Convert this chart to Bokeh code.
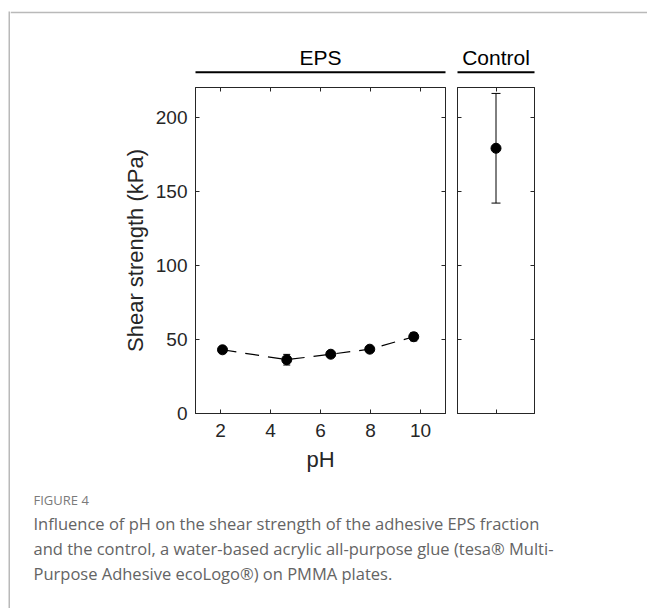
from bokeh.plotting import figure
from bokeh.models import (Range1d, LinearAxis, FixedTicker, Whisker, TeeHead,
                          Label, ColumnDataSource, Spacer)
from bokeh.layouts import row, column
from bokeh.embed import file_html
from bokeh.resources import INLINE

# ---------------- data ----------------
ph = [2.08, 4.65, 6.41, 7.97, 9.73]
shear_eps = [43.0, 36.3, 40.0, 43.4, 51.8]
shear_eps_err = [1.5, 3.6, 1.6, 1.5, 2.8]
control_x = [1]
control_shear = [179.0]
control_err = [37.0]
x_ticks = [2, 4, 6, 8, 10]
y_ticks = [0, 50, 100, 150, 200]
panel_titles = ["EPS", "Control"]
x_label = "pH"
y_label = "Shear strength (kPa)"
caption_head = "FIGURE 4"
caption_lines = [
    "Influence of pH on the shear strength of the adhesive EPS fraction",
    "and the control, a water-based acrylic all-purpose glue (tesa\u00ae Multi-",
    "Purpose Adhesive ecoLogo\u00ae) on PMMA plates.",
]

# ---------------- style / layout (page pixels) ----------------
FONT = "Liberation Sans"
CAP_FONT = "Open Sans"
AX = "#262626"
CARD = "#b9b9b9"
PAGE_W = 647
CARD_X, CARD_Y = 8, 11          # card border position
BAR = 2                          # card border thickness
HDR_BOTTOM = 86                  # header strip bottom
EPS_L, EPS_R = 195, 445          # EPS frame
CTRL_L, CTRL_R = 457, 534        # control frame
FRAME_T, FRAME_B = 87, 413
PANEL_B = 485                    # bottom of panel row
PAGE_H = 608
HDR_LINE_Y = 71.7
HDR_TEXT_Y = 56.6
CAP_HEAD_Y = 499
CAP_BODY_Y = 523
CAP_STEP = 25
INNER_X = CARD_X + BAR


def style_axis(ax, ticks, show_labels):
    ax.ticker = FixedTicker(ticks=ticks)
    ax.major_tick_in = 4
    ax.major_tick_out = 0
    ax.minor_tick_line_color = None
    ax.axis_line_color = AX
    ax.major_tick_line_color = AX
    if show_labels:
        ax.major_label_text_font = FONT
        ax.major_label_text_font_size = "19px"
        ax.major_label_text_color = AX
    else:
        ax.major_label_text_color = None
        ax.major_label_text_font_size = "0px"
        ax.major_label_standoff = 0


def panel_fig(x0, x1, fl, fr, xr):
    p = figure(width=x1 - x0, height=PANEL_B - HDR_BOTTOM, x_range=xr,
               y_range=Range1d(0, 220), output_backend="svg",
               toolbar_location=None, min_border_left=fl - x0,
               min_border_right=x1 - fr, min_border_top=FRAME_T - HDR_BOTTOM,
               min_border_bottom=PANEL_B - FRAME_B)
    p.xgrid.visible = False
    p.ygrid.visible = False
    p.outline_line_color = AX
    p.outline_line_width = 1
    p.background_fill_color = "white"
    p.border_fill_color = "white"
    return p


SPLIT = EPS_R + 6

# ---------------- EPS panel ----------------
eps = panel_fig(INNER_X, SPLIT, EPS_L, EPS_R, Range1d(1, 11))
style_axis(eps.xaxis[0], x_ticks, True)
style_axis(eps.yaxis[0], y_ticks, True)
eps.xaxis[0].major_label_standoff = 10
eps.yaxis[0].major_label_standoff = 8
eps.xaxis[0].axis_label = x_label
eps.yaxis[0].axis_label = y_label
for ax in (eps.xaxis[0], eps.yaxis[0]):
    ax.axis_label_text_font = FONT
    ax.axis_label_text_font_size = "22px"
    ax.axis_label_text_font_style = "normal"
    ax.axis_label_text_color = AX
eps.xaxis[0].axis_label_standoff = 7
eps.yaxis[0].axis_label_standoff = 5
r_ax = LinearAxis()
style_axis(r_ax, y_ticks, False)
eps.add_layout(r_ax, "right")
t_ax = LinearAxis()
style_axis(t_ax, x_ticks, False)
eps.add_layout(t_ax, "above")

src = ColumnDataSource(dict(
    x=ph, y=shear_eps,
    lo=[v - e for v, e in zip(shear_eps, shear_eps_err)],
    hi=[v + e for v, e in zip(shear_eps, shear_eps_err)]))
eps.line("x", "y", source=src, line_color="black", line_width=1.2,
         line_dash="14 9")
eps.add_layout(Whisker(source=src, base="x", lower="lo", upper="hi",
                       line_color="black", line_width=1,
                       upper_head=TeeHead(size=7, line_color="black"),
                       lower_head=TeeHead(size=7, line_color="black")))
eps.scatter("x", "y", source=src, size=10, color="black")

# ---------------- Control panel ----------------
ctrl = panel_fig(SPLIT, PAGE_W, CTRL_L, CTRL_R, Range1d(0, 2))
style_axis(ctrl.xaxis[0], control_x, False)
style_axis(ctrl.yaxis[0], y_ticks, False)
r2 = LinearAxis()
style_axis(r2, y_ticks, False)
ctrl.add_layout(r2, "right")
t2 = LinearAxis()
style_axis(t2, control_x, False)
ctrl.add_layout(t2, "above")

csrc = ColumnDataSource(dict(
    x=control_x, y=control_shear,
    lo=[v - e for v, e in zip(control_shear, control_err)],
    hi=[v + e for v, e in zip(control_shear, control_err)]))
ctrl.add_layout(Whisker(source=csrc, base="x", lower="lo", upper="hi",
                        line_color="black", line_width=1,
                        upper_head=TeeHead(size=9, line_color="black"),
                        lower_head=TeeHead(size=9, line_color="black")))
ctrl.scatter("x", "y", source=csrc, size=10, color="black")

# ---------------- header strip (card top border + panel headers) ----------------
hdr = figure(width=PAGE_W - INNER_X, height=HDR_BOTTOM - CARD_Y,
             x_range=Range1d(INNER_X, PAGE_W),
             y_range=Range1d(HDR_BOTTOM, CARD_Y + BAR), output_backend="svg",
             toolbar_location=None, min_border=0, min_border_top=BAR,
             x_axis_type=None, y_axis_type=None)
hdr.xgrid.visible = False
hdr.ygrid.visible = False
hdr.outline_line_color = None
hdr.border_fill_color = CARD
hdr.background_fill_color = "white"
for (l, r), title in zip([(EPS_L, EPS_R), (CTRL_L, CTRL_R)], panel_titles):
    hdr.line([l, r], [HDR_LINE_Y, HDR_LINE_Y], line_color="black", line_width=2)
    hdr.add_layout(Label(x=(l + r) / 2, y=HDR_TEXT_Y, text=title,
                         text_align="center", text_baseline="alphabetic",
                         text_font=FONT, text_font_size="21px",
                         text_color="black"))

# ---------------- caption ----------------
cap = figure(width=PAGE_W - INNER_X, height=PAGE_H - PANEL_B,
             x_range=Range1d(INNER_X, PAGE_W), y_range=Range1d(PAGE_H, PANEL_B),
             output_backend="svg", toolbar_location=None, min_border=0,
             x_axis_type=None, y_axis_type=None)
cap.xgrid.visible = False
cap.ygrid.visible = False
cap.outline_line_color = None
cap.add_layout(Label(x=33, y=CAP_HEAD_Y, text=caption_head, text_font=CAP_FONT,
                     text_font_size="13px", text_color="#7a7a7a",
                     text_baseline="alphabetic"))
for i, line in enumerate(caption_lines):
    cap.add_layout(Label(x=33, y=CAP_BODY_Y + CAP_STEP * i, text=line,
                         text_font=CAP_FONT, text_font_size="16.5px",
                         text_color="#646464", text_baseline="alphabetic"))

# ---------------- card left border ----------------
bar_left = figure(width=BAR, height=PAGE_H - CARD_Y, output_backend="svg",
                  toolbar_location=None, min_border=0, x_axis_type=None,
                  y_axis_type=None, x_range=Range1d(0, 1), y_range=Range1d(0, 1))
bar_left.xgrid.visible = False
bar_left.ygrid.visible = False
bar_left.outline_line_color = None
bar_left.background_fill_color = CARD
bar_left.border_fill_color = CARD

layout = column(
    Spacer(width=PAGE_W, height=CARD_Y),
    row(Spacer(width=CARD_X, height=PAGE_H - CARD_Y), bar_left,
        column(hdr, row(eps, ctrl, spacing=0), cap, spacing=0),
        spacing=0),
    spacing=0)

open("out.html", "w").write(file_html(layout, INLINE))
